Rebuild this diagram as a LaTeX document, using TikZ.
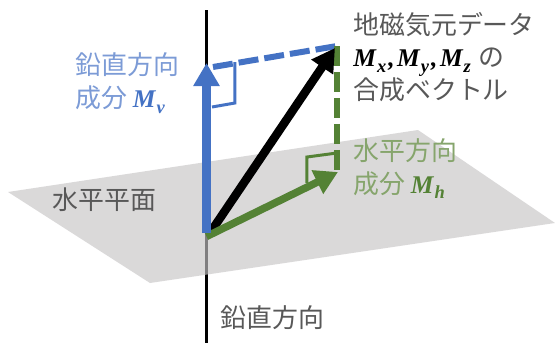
\documentclass[tikz,border=0pt]{standalone}
\usepackage{xcolor}
\usepackage{fontspec}
\setmainfont{Noto Sans CJK JP}
\newfontfamily\mfont{Liberation Serif}
\definecolor{mblue}{HTML}{4472C4}
\definecolor{mgreen}{HTML}{548235}
\definecolor{lblue}{HTML}{7C9BD6}
\definecolor{lgreen}{HTML}{86A56C}
\definecolor{mtext}{HTML}{585858}
\definecolor{mplane}{HTML}{C6C4C5}
\usetikzlibrary{arrows.meta}
\newcommand{\mvec}[2]{{\mfont\bfseries\itshape\fontsize{14.5}{18.7}\selectfont #1\kern0.04em\raisebox{-0.22em}{\fontsize{10.5}{12}\selectfont #2}\kern0.08em}}
\newcommand{\mcomma}{{\mfont\bfseries\itshape\fontsize{14.5}{18.7}\selectfont ,\kern0.1em}}
\tikzset{
  vec/.style={line width=#1, -{Triangle[length=0.46cm,width=0.5cm]}},
  dashline/.style={line width=0.12cm, dash pattern=on 0.4cm off 0.12cm},
  corner/.style={line width=0.06cm},
  lbl/.style={anchor=west, inner sep=0pt, align=left, text=mtext,
    font=\fontsize{14.75}{18.7}\selectfont}
}
\begin{document}
\begin{tikzpicture}[scale=1]

            \useasboundingbox (0, 0) rectangle (11.1, 6.86);

            \coordinate (axistop) at (4.13, 6.66);
            \coordinate (axisbot) at (4.13, 0);
            \coordinate (origin) at (4.13, 2.2);
            \coordinate (vtip) at (4.13, 5.6);
            \coordinate (htail) at (4.13, 2.13);
            \coordinate (htip) at (6.76, 3.42);
            \coordinate (stail) at (4.2, 2.2);
            \coordinate (stip) at (6.7, 5.9);
            \coordinate (peak) at (6.74, 5.94);
            \coordinate (vdash) at (4.26, 5.52);
            \coordinate (hdash) at (6.74, 3.46);

            \draw[line width=0.07cm] (axistop) -- (axisbot);

            % plane over the axis
            \fill[mplane, opacity=0.65] (0.16, 3.02) -- (8.36, 4.26) -- (11.1, 2.4) -- (3, 1.2) -- cycle;

            \draw[dashline, mblue] (vdash) -- (peak);
            \draw[dashline, mgreen] (peak) -- (hdash);

            \draw[corner, mblue] (4.24, 4.72) -- (4.7, 4.8) -- (4.7, 5.62);
            \draw[corner, mgreen] (6.14, 3.2) -- (6.14, 3.72) -- (6.74, 3.8);

            \draw[vec=0.17cm] (stail) -- (stip);
            \draw[vec=0.15cm, mgreen] (htail) -- (htip);
            \draw[vec=0.16cm, mblue] (origin) -- (vtip);

            \node[lbl, text=lblue] (vlabel) at (1.5, 5.2) {鉛直方向\\成分 {\color{mblue}\mvec{M}{v}}};
            \node[lbl] (sumlabel) at (7.06, 5.72) {地磁気元データ\\{\color{black}\mvec{M}{x}\mcomma\mvec{M}{y}\mcomma\mvec{M}{z}} の\\合成ベクトル};
            \node[lbl, text=lgreen] (hlabel) at (7.06, 3.49) {水平方向\\成分 {\color{mgreen}\mvec{M}{h}}};
            \node[lbl] (planelabel) at (1.04, 2.86) {水平平面};
            \node[lbl] (axislabel) at (4.4, 0.5) {鉛直方向};

          \end{tikzpicture}
\end{document}
